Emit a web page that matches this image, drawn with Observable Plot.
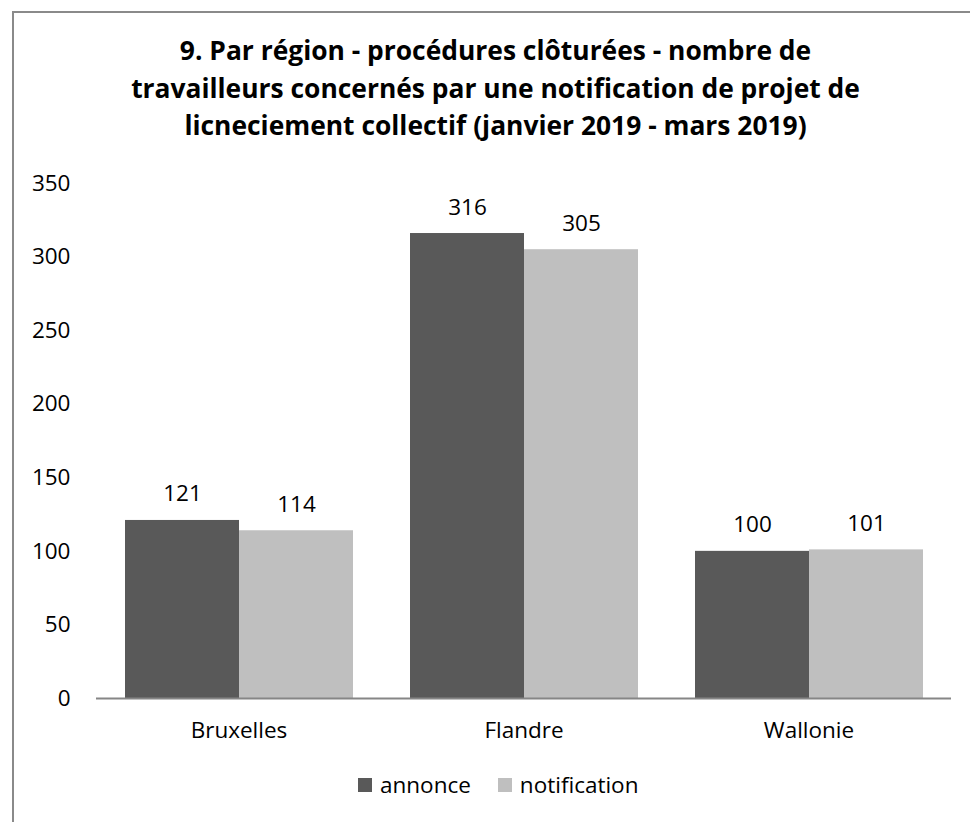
<!DOCTYPE html>
<html><head><meta charset="utf-8">
<script src="https://cdn.jsdelivr.net/npm/d3@7"></script>
<script src="https://cdn.jsdelivr.net/npm/@observablehq/plot@0.6"></script>
<style>
body{margin:0;background:#fff;font-family:"Open Sans",sans-serif;}
#wrap{position:relative;width:970px;height:822px;overflow:hidden;background:#fff;}
#bt{position:absolute;left:12px;top:11px;width:970px;height:2px;background:#8a8a8a}
#bl{position:absolute;left:12px;top:11px;width:2px;height:820px;background:#8a8a8a}
#title{position:absolute;left:13px;width:965px;top:32px;text-align:center;font-weight:700;font-size:26.4px;line-height:37.5px;color:#000}
#chart{position:absolute;left:0;top:160px}
#legend{position:absolute;left:358px;top:770px;height:30px;display:flex;align-items:center;font-size:22.5px;line-height:30px;color:#000}
.sw{width:14px;height:14px;margin-right:8px;display:inline-block}
.it{display:flex;align-items:center;margin-right:27px}
</style></head>
<body>
<div id="wrap">
  <div id="bt"></div><div id="bl"></div>
  <div id="title"></div>
  <div id="chart"></div>
  <div id="legend"></div>
</div>
<script>
const titleLines = ["9. Par région - procédures clôturées - nombre de",
  "travailleurs concernés par une notification de projet de",
  "licneciement collectif (janvier 2019 - mars 2019)"];
const regions = ["Bruxelles", "Flandre", "Wallonie"];
const series = ["annonce", "notification"];
const annonce = [121, 316, 100];
const notification = [114, 305, 101];
const colors = ["#595959", "#BFBFBF"];
const yTicks = [0, 50, 100, 150, 200, 250, 300, 350];

const title = document.getElementById("title");
titleLines.forEach((t, i) => { if (i) title.appendChild(document.createElement("br")); title.appendChild(document.createTextNode(t)); });

const values = {annonce, notification};
const data = [];
regions.forEach((r, i) => series.forEach(s => data.push({region: r, series: s, value: values[s][i]})));

const chart = Plot.plot({
  width: 970, height: 600,
  marginTop: 23, marginBottom: 62, marginLeft: 96, marginRight: 19,
  style: {fontFamily: "Open Sans", fontSize: "22.5px", color: "#000", background: "transparent"},
  fx: {domain: regions, padding: 0, label: null},
  x: {domain: series, paddingInner: 0, paddingOuter: 0.25, axis: null},
  y: {domain: [0, 350], axis: null},
  color: {domain: series, range: colors},
  marks: [
    Plot.barY(data, {fx: "region", x: "series", y: "value", fill: "series"}),
    Plot.text(data, {fx: "region", x: "series", y: "value", text: d => String(d.value), lineAnchor: "bottom", dy: -19, fill: "#000"}),
    Plot.ruleY([0], {stroke: "#868686", strokeWidth: 2}),
    Plot.axisY({ticks: yTicks, tickSize: 0, tickPadding: 26, label: null, fill: "#000"}),
    Plot.axisFx({anchor: "bottom", tickSize: 0, tickPadding: 24, label: null, fill: "#000"})
  ]
});
document.getElementById("chart").appendChild(chart);

const legend = document.getElementById("legend");
series.forEach((s, i) => {
  const it = document.createElement("span"); it.className = "it";
  const sw = document.createElement("span"); sw.className = "sw"; sw.style.background = colors[i];
  it.appendChild(sw); it.appendChild(document.createTextNode(s));
  legend.appendChild(it);
});
</script>
</body></html>
